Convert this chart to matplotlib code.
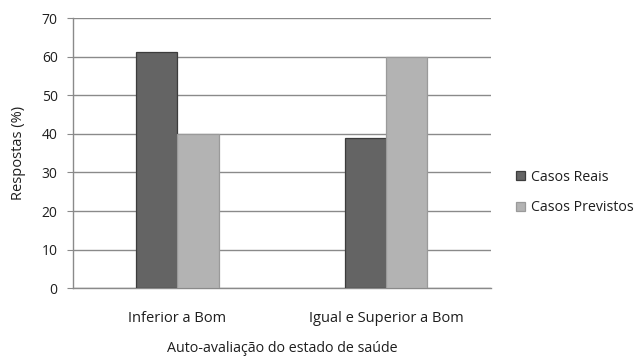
import matplotlib
matplotlib.use("Agg")
import matplotlib.pyplot as plt
import numpy as np

categories = ["Inferior a Bom", "Igual e Superior a Bom"]
series_names = ["Casos Reais", "Casos Previstos"]
casos_reais = [61.2, 38.8]
casos_previstos = [40.0, 60.0]
y_ticks = [0, 10, 20, 30, 40, 50, 60, 70]

plt.rcParams['font.family'] = ['Open Sans', 'DejaVu Sans']
txt = "#1e1e1e"

fig = plt.figure(figsize=(6.42, 3.58), dpi=100)
ax = fig.add_axes([0.1137, 0.1947, 0.6506, 0.755])

x = np.arange(len(categories))
w = 0.197
ax.bar(x - w / 2, casos_reais, width=w, color="#646464", edgecolor="#3c3c3c",
       linewidth=0.9, label=series_names[0], zorder=3)
ax.bar(x + w / 2, casos_previstos, width=w, color="#b3b3b3", edgecolor="#9a9a9a",
       linewidth=0.9, label=series_names[1], zorder=3)

ax.set_xlim(-0.5, 1.5)
ax.set_ylim(0, 70)
ax.set_yticks(y_ticks)
ax.set_xticks(x)
ax.set_xticklabels(categories)
ax.yaxis.grid(True, color="#8a8a8a", linewidth=1.0, zorder=0)
ax.set_axisbelow(True)

for s in ["top", "right"]:
    ax.spines[s].set_visible(False)
for s in ["left", "bottom"]:
    ax.spines[s].set_color("#8a8a8a")
    ax.spines[s].set_linewidth(1.0)

ax.tick_params(axis="y", length=4, color="#8a8a8a", labelsize=10, pad=7, labelcolor=txt)
ax.tick_params(axis="x", length=0, labelsize=10.5, pad=16, labelcolor=txt)

ax.set_ylabel("Respostas (%)", fontsize=10.5, color=txt, labelpad=11)
ax.set_xlabel("Auto-avaliação do estado de saúde", fontsize=10.3, color=txt, labelpad=11)

leg = fig.legend(loc="upper left", bbox_to_anchor=(0.784, 0.562), frameon=False,
                 fontsize=10.2, handlelength=0.6, handleheight=0.6, labelspacing=1.1,
                 handletextpad=0.45)
for t in leg.get_texts():
    t.set_color(txt)

fig.savefig("out.png", dpi=100)
